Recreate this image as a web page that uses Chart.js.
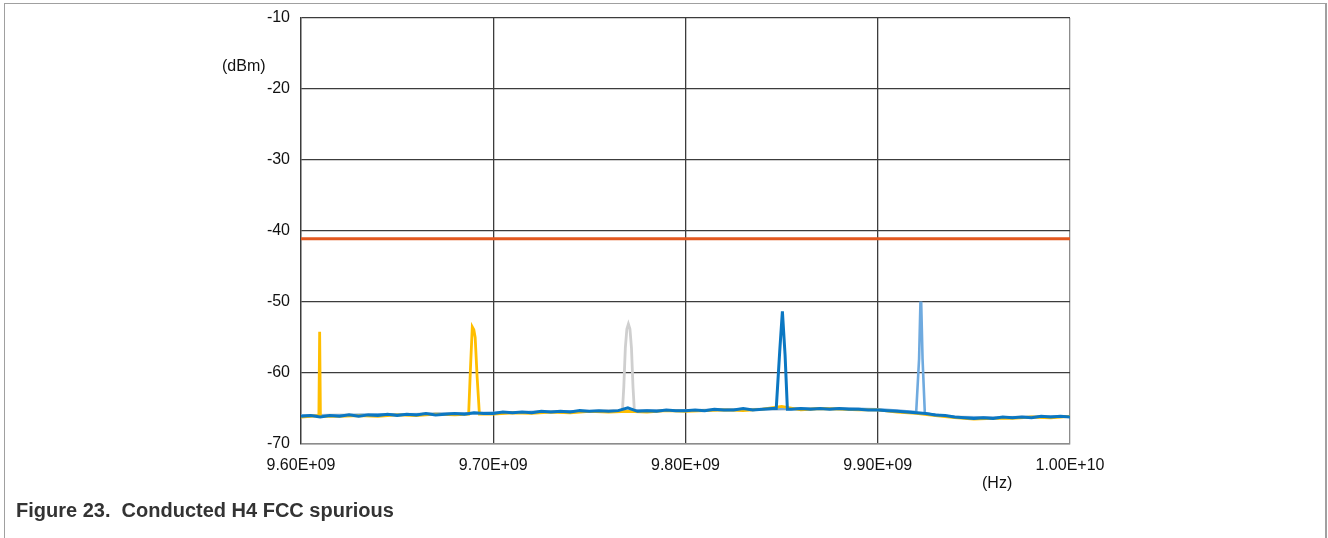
<!DOCTYPE html>
<html>
<head>
<meta charset="utf-8">
<script src="https://cdn.jsdelivr.net/npm/chart.js@4/dist/chart.umd.min.js"></script>
<style>
  html, body { margin: 0; padding: 0; background: #fff; }
  #wrap { position: relative; width: 1328px; height: 538px; overflow: hidden; font-family: "Liberation Sans", Arial, sans-serif; }
  #frame { position: absolute; left: 4px; top: 3px; width: 1323px; height: 560px; border-top: 1px solid #a0a0a0; border-left: 1px solid #a0a0a0; border-right: 2px solid #a0a0a0; box-sizing: border-box; }
  canvas { position: absolute; left: 0; top: 0; }
  .unit { position: absolute; font-size: 16px; color: #111; line-height: 1; }
  #caption { position: absolute; left: 16px; top: 500px; font-size: 20px; font-weight: bold; color: #333; white-space: pre; line-height: 1; }
</style>
</head>
<body>
<div id="wrap">
  <div id="frame"></div>
  <canvas id="spur-chart" width="1328" height="538"></canvas>
  <div class="unit" style="left:222px; top:58px;">(dBm)</div>
  <div class="unit" style="left:982px; top:475px;">(Hz)</div>
  <div id="caption">Figure 23.  Conducted H4 FCC spurious</div>
</div>
<script>
// Conducted H4 spurious sweep, 9.6 - 10 GHz (frequency in GHz, level in dBm)

const xTickLabels = ['9.60E+09', '9.70E+09', '9.80E+09', '9.90E+09', '1.00E+10'];
const yTicks = [-10, -20, -30, -40, -50, -60, -70];

// FCC limit line
const limitFreq = [9.600, 10.000];
const limitDbm = [-41.1, -41.1];

// dark blue trace (spur near 9.85 GHz)
const blueFreq = [
  9.600, 9.605, 9.610, 9.615, 9.620, 9.625, 9.630, 9.635, 9.640, 9.645,
  9.650, 9.655, 9.660, 9.665, 9.670, 9.675, 9.680, 9.685, 9.690, 9.695,
  9.700, 9.705, 9.710, 9.715, 9.720, 9.725, 9.730, 9.735, 9.740, 9.745,
  9.750, 9.755, 9.760, 9.765, 9.770, 9.775, 9.780, 9.785, 9.790, 9.795,
  9.800, 9.805, 9.810, 9.815, 9.820, 9.825, 9.830, 9.835, 9.840, 9.845,
  9.8472, 9.8490, 9.8504, 9.8518, 9.8530,
  9.855, 9.860, 9.865, 9.870, 9.875, 9.880, 9.885, 9.890, 9.895, 9.900,
  9.905, 9.910, 9.915, 9.920, 9.925, 9.930, 9.935, 9.940, 9.945, 9.950,
  9.955, 9.960, 9.965, 9.970, 9.975, 9.980, 9.985, 9.990, 9.995, 10.000
];
const blueDbm = [
  -66.1, -66.0, -66.2, -66.0, -66.1, -65.9, -66.1, -65.9, -66.0, -65.8,
  -66.0, -65.8, -65.9, -65.7, -65.9, -65.8, -65.7, -65.8, -65.6, -65.7,
  -65.7, -65.5, -65.6, -65.5, -65.6, -65.4, -65.5, -65.4, -65.5, -65.3,
  -65.4, -65.3, -65.4, -65.3, -64.9, -65.4, -65.3, -65.4, -65.2, -65.3,
  -65.3, -65.2, -65.3, -65.1, -65.2, -65.2, -65.0, -65.2, -65.1, -65.0,
  -65.0, -57.0, -51.3, -57.5, -65.1,
  -65.1, -65.0, -65.1, -65.0, -65.1, -65.0, -65.1, -65.1, -65.2, -65.2,
  -65.3, -65.4, -65.5, -65.6, -65.7, -65.9, -66.0, -66.2, -66.3, -66.4,
  -66.3, -66.4, -66.2, -66.3, -66.2, -66.3, -66.1, -66.2, -66.1, -66.2
];

// yellow trace (spurs near 9.61 and 9.69 GHz)
const yellowFreq = [
  9.600, 9.6093, 9.6097, 9.6101, 9.620, 9.630, 9.640, 9.650, 9.660, 9.670,
  9.680, 9.6872, 9.6882, 9.6891, 9.6899, 9.6906, 9.6916, 9.6928, 9.700, 9.710,
  9.720, 9.730, 9.740, 9.750, 9.760, 9.770, 9.780, 9.790, 9.800, 9.810,
  9.820, 9.830, 9.840, 9.850, 9.860, 9.870, 9.880, 9.890, 9.900, 9.910,
  9.920, 9.930, 9.940, 9.950, 9.960, 9.970, 9.980, 9.990, 10.000
];
const yellowDbm = [
  -66.2, -66.0, -54.2, -66.1, -66.1, -66.0, -66.1, -65.9, -66.0, -65.8,
  -65.9, -65.8, -59.0, -53.5, -53.9, -55.0, -60.5, -65.8, -65.8, -65.6,
  -65.7, -65.5, -65.6, -65.4, -65.5, -65.4, -65.5, -65.3, -65.4, -65.3,
  -65.2, -65.3, -65.1, -64.7, -65.2, -65.0, -65.1, -65.2, -65.2, -65.5,
  -65.7, -66.0, -66.3, -66.5, -66.4, -66.4, -66.2, -66.3, -66.1
];

// grey trace (spur near 9.77 GHz)
const greyFreq = [
  9.600, 9.620, 9.640, 9.660, 9.680, 9.700, 9.720, 9.740, 9.760, 9.7672,
  9.7679, 9.7687, 9.7695, 9.7703, 9.7711, 9.7719, 9.7727, 9.7734, 9.780, 9.800,
  9.820, 9.840, 9.860, 9.880, 9.900, 9.920, 9.940, 9.960, 9.980, 10.000
];
const greyDbm = [
  -66.0, -65.9, -65.9, -65.8, -65.7, -65.7, -65.5, -65.5, -65.3, -65.3,
  -62.0, -56.5, -53.8, -53.1, -53.8, -56.5, -62.0, -65.3, -65.3, -65.3,
  -65.2, -65.1, -65.1, -65.0, -65.2, -65.6, -66.2, -66.3, -66.2, -66.1
];

// light blue trace (spur near 9.92 GHz)
const lightFreq = [
  9.600, 9.620, 9.640, 9.660, 9.680, 9.700, 9.720, 9.740, 9.760, 9.780,
  9.800, 9.820, 9.840, 9.860, 9.880, 9.900, 9.910, 9.9200, 9.9215, 9.9222,
  9.9226, 9.9233, 9.9245, 9.930, 9.940, 9.960, 9.980, 10.000
];
const lightDbm = [
  -66.0, -66.0, -65.8, -65.8, -65.7, -65.6, -65.5, -65.4, -65.4, -65.3,
  -65.3, -65.2, -65.1, -65.0, -65.0, -65.1, -65.3, -65.5, -58.0, -50.1,
  -50.1, -58.0, -65.7, -65.9, -66.2, -66.3, -66.2, -66.1
];

function toPoints(xs, ys) {
  return xs.map((x, i) => ({ x: x, y: ys[i] }));
}

const gridDark = '#3c3c3c';
const gridEdge = '#8c8c8c';
const tickFont = { family: '"Liberation Sans", Arial, sans-serif', size: 16 };

function trace(data, color, width) {
  return {
    data: data,
    borderColor: color,
    borderWidth: width,
    pointRadius: 0,
    tension: 0,
    fill: false
  };
}

const ctx = document.getElementById('spur-chart');

new Chart(ctx, {
  type: 'line',
  data: {
    datasets: [
      trace(toPoints(blueFreq, blueDbm), '#0B77C2', 3),
      trace(toPoints(yellowFreq, yellowDbm), '#FFBE00', 2.8),
      trace(toPoints(limitFreq, limitDbm), '#E2571E', 3),
      trace(toPoints(lightFreq, lightDbm), '#6FAADF', 2.6),
      trace(toPoints(greyFreq, greyDbm), '#CFCFCF', 2.8)
    ]
  },
  options: {
    responsive: false,
    animation: false,
    layout: {
      padding: { left: 0, top: 18, right: 258, bottom: 0 }
    },
    plugins: {
      legend: { display: false },
      tooltip: { enabled: false }
    },
    scales: {
      x: {
        type: 'linear',
        min: 9.6,
        max: 10.0,
        afterFit: scale => { scale.height = 94; },
        afterBuildTicks: scale => {
          scale.ticks = xTickLabels.map((l, i) => ({ value: 9.6 + i * 0.1 }));
        },
        border: { color: gridEdge, width: 1.5 },
        grid: {
          color: c => (c.index === xTickLabels.length - 1 ? gridEdge : gridDark),
          lineWidth: 1.3,
          drawTicks: false
        },
        ticks: {
          color: '#111',
          font: tickFont,
          padding: 12,
          maxRotation: 0,
          autoSkip: false,
          callback: (value, index) => xTickLabels[index]
        }
      },
      y: {
        min: -70,
        max: -10,
        afterFit: scale => {
          scale.width = 301;
          scale.paddingTop = 0;
          scale.paddingBottom = 0;
        },
        afterBuildTicks: scale => {
          scale.ticks = yTicks.map(v => ({ value: v }));
        },
        border: { color: gridDark, width: 1.3 },
        grid: {
          color: c => (c.tick && c.tick.value === -70 ? gridEdge : gridDark),
          lineWidth: 1.3,
          drawTicks: false
        },
        ticks: {
          color: '#111',
          font: tickFont,
          padding: 11,
          callback: value => String(value)
        }
      }
    }
  }
});
</script>
</body>
</html>
